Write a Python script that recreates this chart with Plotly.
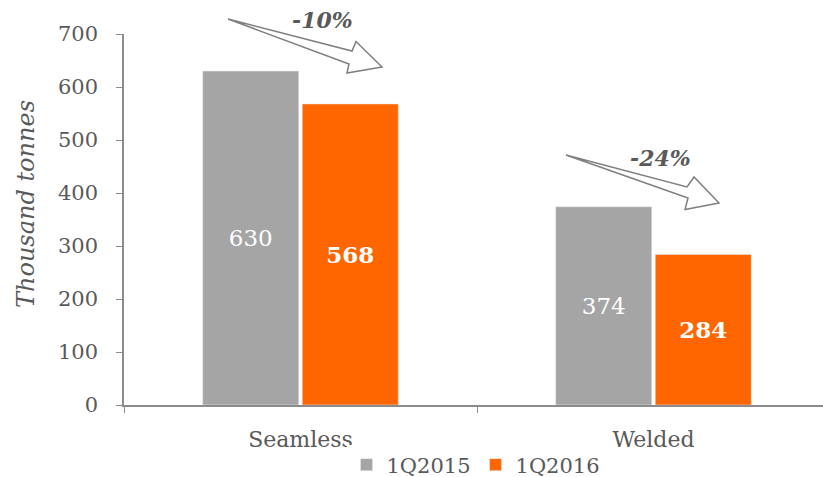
import plotly.graph_objects as go

categories = ["Seamless", "Welded"]
series_names = ["1Q2015", "1Q2016"]
values_2015 = [630, 374]
values_2016 = [568, 284]
change_labels = ["-10%", "-24%"]
y_ticks = [0, 100, 200, 300, 400, 500, 600, 700]
y_title = "Thousand tonnes"

FONT = "Georgia, 'DejaVu Serif', serif"
TXT = "#595959"
GRAY = "#a5a5a5"
ORANGE = "#ff6600"

fig = go.Figure()
fig.add_trace(go.Bar(
    x=categories, y=values_2015, name=series_names[0], marker_color=GRAY,
    text=[str(v) for v in values_2015], textposition="inside",
    insidetextanchor="middle", textangle=0,
    textfont=dict(family=FONT, size=23, color="white"),
))
fig.add_trace(go.Bar(
    x=categories, y=values_2016, name=series_names[1], marker_color=ORANGE,
    text=["<b>%d</b>" % v for v in values_2016], textposition="inside",
    insidetextanchor="middle", textangle=0,
    textfont=dict(family=FONT, size=23, color="white"),
))

# pixel -> paper helpers for decorative arrows / labels
L, R, T, B = 124, 823, 34, 405
def px(x):
    return (x - L) / (R - L)
def py(y):
    return (B - y) / (B - T)

arrows = [
    [(228, 19), (352, 51), (356, 41.5), (382, 67), (347, 73), (349, 64)],
    [(566, 155), (687, 187), (694, 177), (719, 203), (685, 209.5), (688, 198)],
]
for pts in arrows:
    path = "M " + " L ".join("%.4f,%.4f" % (px(a), py(b)) for a, b in pts) + " Z"
    fig.add_shape(type="path", path=path, xref="paper", yref="paper",
                  line=dict(color="#7f7f7f", width=1.5), fillcolor="white", layer="above")

label_pos = [(322, 20), (660, 158)]
for lab, (a, b) in zip(change_labels, label_pos):
    fig.add_annotation(x=px(a), y=py(b), xref="paper", yref="paper",
                       xanchor="center", yanchor="middle",
                       text="<b><i>%s</i></b>" % lab, showarrow=False,
                       font=dict(family=FONT, size=22, color=TXT))

fig.add_annotation(x=px(26), y=py(204), xref="paper", yref="paper",
                   xanchor="center", yanchor="middle", textangle=-90,
                   text="<i>%s</i>" % y_title, showarrow=False,
                   font=dict(family=FONT, size=24, color=TXT))

fig.update_layout(
    width=823, height=477,
    margin=dict(l=L, r=823 - R, t=T, b=477 - B, autoexpand=False),
    paper_bgcolor="white", plot_bgcolor="white",
    barmode="group", bargap=0.436, bargroupgap=0.035,
    font=dict(family=FONT, color=TXT, size=19),
    showlegend=True,
    legend=dict(orientation="h", x=px(476), xanchor="center",
                yref="container", y=(477 - 465) / 477.0, yanchor="middle",
                font=dict(family=FONT, size=21, color=TXT), itemwidth=30,
                traceorder="normal"),
    xaxis=dict(range=[-0.5, -0.5 + (R - L) / 353.0], showline=True, linecolor="#8c8c8c",
               linewidth=1.5, ticks="outside", tickson="boundaries", ticklen=6,
               tickcolor="#8c8c8c", showgrid=False, zeroline=False,
               tickfont=dict(family=FONT, size=22, color=TXT), ticklabelstandoff=14),
    yaxis=dict(range=[0, 700], tickvals=y_ticks, showline=True, linecolor="#8c8c8c",
               linewidth=1.5, ticks="outside", ticklen=6, tickcolor="#8c8c8c",
               showgrid=False, zeroline=False,
               tickfont=dict(family=FONT, size=21, color=TXT), ticklabelstandoff=14),
)

fig.write_html("out.html")
